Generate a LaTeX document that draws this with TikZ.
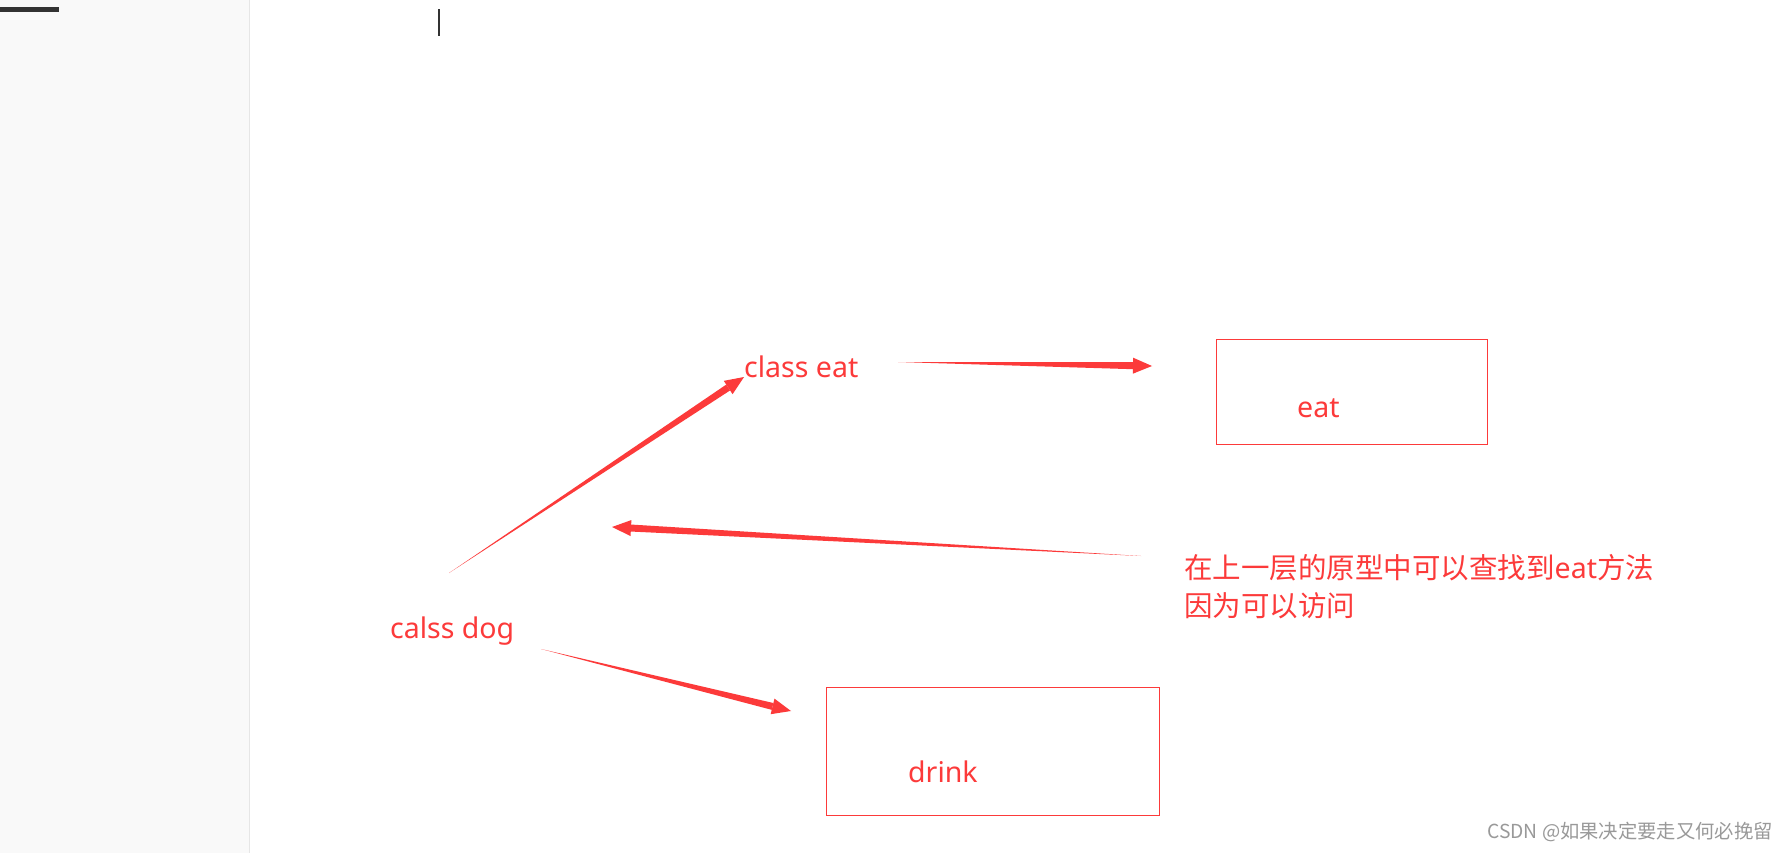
\documentclass[tikz,border=0pt]{standalone}
\usepackage{fontspec}
\newfontfamily\cjk{Noto Sans CJK SC}
\newfontfamily\latin{Noto Sans}
\usetikzlibrary{calc,positioning}

\definecolor{inkred}{RGB}{252,58,58}
\definecolor{panel}{RGB}{249,249,249}
\definecolor{panelline}{RGB}{230,230,230}
\definecolor{bardark}{RGB}{51,51,51}

% tapered arrow: thin tail #1, head at #2
\newcommand\taparrow[2]{%
    \coordinate (tb) at ($(#2)!19pt!(#1)$);
    \fill[inkred] (#1) -- ($(tb)!3.5pt!90:(#2)$) -- ($(tb)!3.5pt!-90:(#2)$) -- cycle;
    \fill[inkred] (#2) -- ($(tb)!8pt!90:(#2)$) -- ($(tb)!8pt!-90:(#2)$) -- cycle;
}

\begin{document}
\begin{tikzpicture}[
        x=1pt, y=-1pt,
        block/.style={rectangle,draw=inkred,line width=1pt,inner sep=0pt},
        redtext/.style={text=inkred,inner sep=0pt,anchor=base west,
            font=\latin\fontsize{28.5}{34}\selectfont}
    ]

    \useasboundingbox (0,0) rectangle (1790,853);
    \fill[white] (0,0) rectangle (1790,853);

    % editor side panel, bar and cursor
    \fill[panel] (0,0) rectangle (249,853);
    \draw[panelline, line width=1.5pt] (249.5,0) -- (249.5,853);
    \fill[bardark] (0,7) rectangle (59,12);
    \fill[bardark] (438,9) rectangle (440,36);

    \node[block, minimum width=271pt, minimum height=105pt] (eatbox)   at (1351.5,391.5) {};
    \node[block, minimum width=333pt, minimum height=128pt] (drinkbox) at (993.25,751) {};

    \node[redtext] (ceat)  at (744,377)  {class eat};
    \node[redtext] (cdog)  at (390,638)  {calss dog};
    \node[redtext] (eat)   at (1297,417) {eat};
    \node[redtext] (drink) at (908,782)  {drink};
    \node[redtext, align=left, font=\cjk\fontsize{28.5}{38}\selectfont] (note) at (1184,616)
        {在上一层的原型中可以查找到{\latin eat}方法\\因为可以访问};

    \node[anchor=west, inner sep=0pt, text=gray!80, font=\cjk\fontsize{19.3}{21}\selectfont]
        (mark) at (1487,832) {CSDN @如果决定要走又何必挽留};

    \coordinate (dogtail)   at (449,573);
    \coordinate (eattail)   at (898,362);
    \coordinate (eattip)    at (1152,366);
    \coordinate (notetail)  at (1141,556);
    \coordinate (notetip)   at (612,527);
    \coordinate (drinktail) at (541,649);
    \coordinate (drinktip)  at (791,711);

    \taparrow{dogtail}{ceat.base west}
    \taparrow{eattail}{eattip}
    \taparrow{notetail}{notetip}
    \taparrow{drinktail}{drinktip}

\end{tikzpicture}
\end{document}
